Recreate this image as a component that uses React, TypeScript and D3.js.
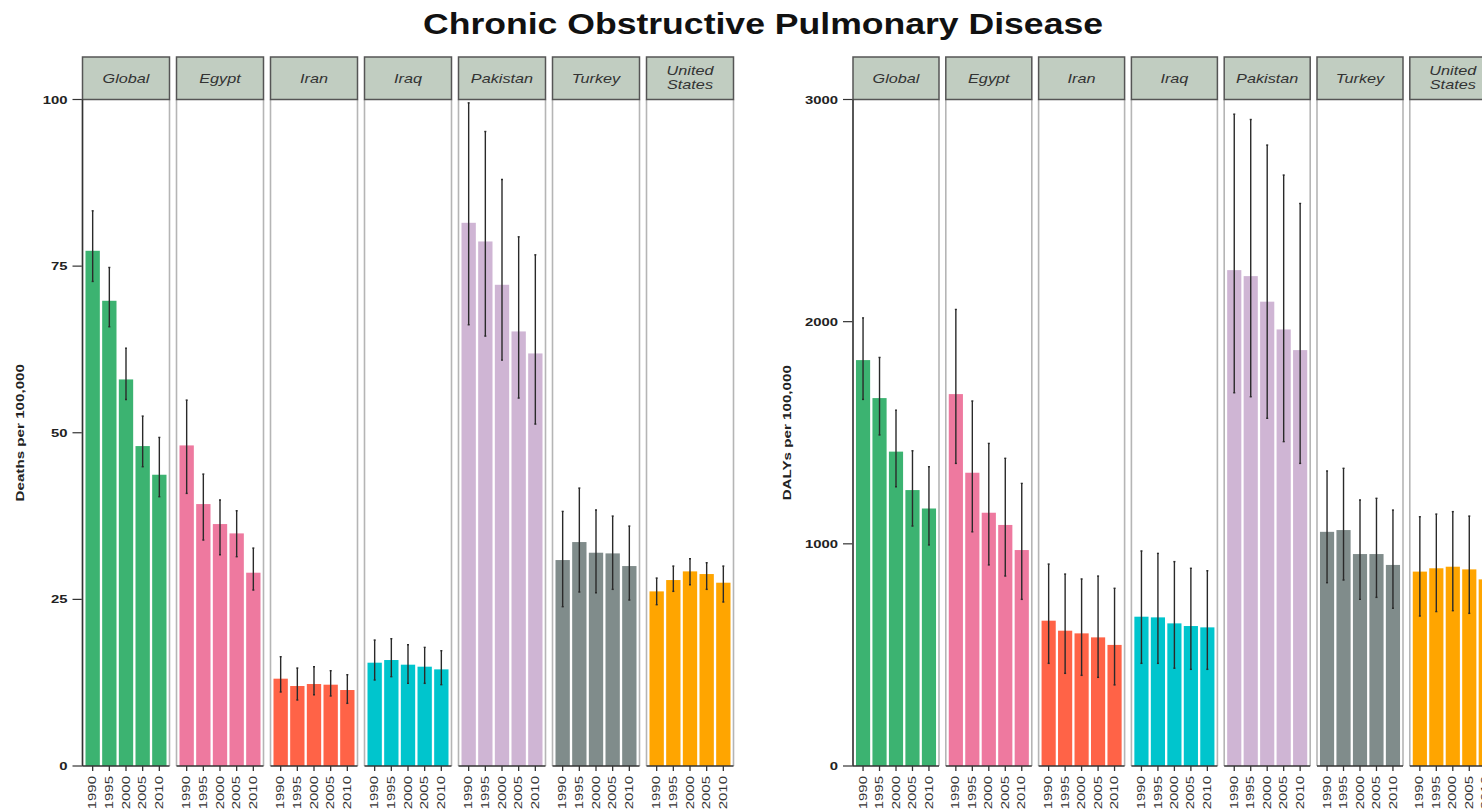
import React from 'react';
import * as d3 from 'd3';

const years = ['1990', '1995', '2000', '2005', '2010'];
const countries = ['Global', 'Egypt', 'Iran', 'Iraq', 'Pakistan', 'Turkey', 'United States'];
const countryColors = ['#3CB371', '#EE799F', '#FF6347', '#00C5CD', '#CFB5D4', '#808C8B', '#FFA500'];

// Deaths per 100,000 (rows: countries, cols: years)
const deathsMean = [
  [77.3, 69.8, 58.0, 48.0, 43.7],
  [48.1, 39.3, 36.3, 34.9, 29.0],
  [13.1, 12.0, 12.3, 12.2, 11.4],
  [15.5, 15.9, 15.2, 14.9, 14.5],
  [81.5, 78.7, 72.2, 65.2, 61.9],
  [30.9, 33.6, 32.0, 31.9, 30.0],
  [26.2, 27.9, 29.2, 28.8, 27.5],
];
const deathsLow = [
  [72.7, 65.9, 55.0, 44.9, 40.4],
  [40.9, 33.9, 31.7, 31.4, 26.4],
  [11.1, 9.9, 10.7, 10.5, 9.4],
  [12.9, 13.4, 12.4, 12.4, 12.2],
  [66.2, 64.5, 60.9, 55.2, 51.3],
  [23.9, 26.1, 26.0, 26.5, 24.9],
  [24.2, 26.2, 27.2, 26.5, 24.6],
];
const deathsHigh = [
  [83.3, 74.8, 62.7, 52.5, 49.3],
  [54.9, 43.8, 39.9, 38.3, 32.7],
  [16.4, 14.7, 14.9, 14.3, 13.7],
  [18.9, 19.1, 18.2, 17.8, 17.3],
  [99.5, 95.2, 88.0, 79.4, 76.7],
  [38.2, 41.7, 38.4, 37.5, 36.0],
  [28.2, 30.0, 31.1, 30.5, 30.0],
];

// DALYs per 100,000
const dalysMean = [
  [1827, 1656, 1415, 1242, 1159],
  [1674, 1320, 1140, 1085, 972],
  [654, 609, 597, 579, 545],
  [672, 669, 642, 630, 624],
  [2232, 2205, 2090, 1965, 1872],
  [1054, 1062, 954, 954, 905],
  [875, 890, 897, 885, 840],
];
const dalysLow = [
  [1650, 1490, 1257, 1080, 995],
  [1362, 1054, 905, 855, 750],
  [462, 417, 408, 399, 365],
  [462, 462, 440, 435, 435],
  [1680, 1662, 1565, 1460, 1362],
  [825, 837, 750, 759, 710],
  [675, 695, 699, 687, 657],
];
const dalysHigh = [
  [2017, 1839, 1602, 1419, 1347],
  [2055, 1643, 1452, 1385, 1272],
  [909, 864, 842, 855, 800],
  [968, 957, 920, 890, 879],
  [2934, 2910, 2795, 2660, 2532],
  [1328, 1340, 1197, 1205, 1152],
  [1122, 1134, 1145, 1125, 1130],
];

const deathsTicks = [0, 25, 50, 75, 100];
const dalysTicks = [0, 1000, 2000, 3000];

const FONT = '"Liberation Sans", Arial, Helvetica, sans-serif';
const STRIP_TOP = 57;
const PANEL_TOP = 99.5;
const AXIS_Y = 766;

type ChartProps = {
  x0: number;
  panelW: number;
  pitch: number;
  yMax: number;
  ticks: number[];
  mean: number[][];
  low: number[][];
  high: number[][];
  yLabel: string;
  yLabelX: number;
};

function FacetChart({ x0, panelW, pitch, yMax, ticks, mean, low, high, yLabel, yLabelX }: ChartProps) {
  const y = d3.scaleLinear().domain([0, yMax]).range([AXIS_Y, PANEL_TOP]);
  const xb = d3.scaleBand<string>().domain(years).range([0, panelW]).paddingInner(0.14).paddingOuter(0.18);
  const panelX = d3.scaleLinear().domain([0, 1]).range([x0, x0 + pitch]);
  const yMid = (PANEL_TOP + AXIS_Y) / 2;

  return (
    <g>
      {/* y label */}
      <text
        transform={`translate(${yLabelX},${yMid}) rotate(-90) scale(1.38,1)`}
        textAnchor="middle"
        fontFamily={FONT}
        fontSize={11}
        fontWeight="bold"
        fill="#222"
      >
        {yLabel}
      </text>
      {/* y ticks */}
      {ticks.map((t) => (
        <g key={t}>
          <line x1={x0 - 10} x2={x0} y1={y(t)} y2={y(t)} stroke="#333" strokeWidth={1.2} />
          <text
            transform={`translate(${x0 - 15},${y(t) + 4}) scale(1.35,1)`}
            textAnchor="end"
            fontFamily={FONT}
            fontSize={11}
            fontWeight="bold"
            fill="#222"
          >
            {t}
          </text>
        </g>
      ))}
      {countries.map((c, ci) => {
        const px = panelX(ci);
        const lines = c === 'United States' ? ['United', 'States'] : [c];
        return (
          <g key={c}>
            {/* panel borders */}
            <line x1={px} x2={px} y1={PANEL_TOP} y2={AXIS_Y} stroke="#b5b5b5" strokeWidth={1.6} />
            <line x1={px + panelW} x2={px + panelW} y1={PANEL_TOP} y2={AXIS_Y} stroke="#b5b5b5" strokeWidth={1.6} />
            {/* bars */}
            {years.map((yr, yi) => (
              <rect
                key={yr}
                x={px + (xb(yr) as number)}
                y={y(mean[ci][yi])}
                width={xb.bandwidth()}
                height={AXIS_Y - y(mean[ci][yi])}
                fill={countryColors[ci]}
              />
            ))}
            {/* error bars */}
            {years.map((yr, yi) => {
              const cx = px + (xb(yr) as number) + xb.bandwidth() / 2;
              return (
                <g key={'e' + yr}>
                  <line x1={cx} x2={cx} y1={y(high[ci][yi])} y2={y(low[ci][yi])} stroke="#2a2a2a" strokeWidth={1.4} />
                  <line x1={cx - 1} x2={cx + 1} y1={y(high[ci][yi])} y2={y(high[ci][yi])} stroke="#2a2a2a" strokeWidth={1.4} />
                  <line x1={cx - 1} x2={cx + 1} y1={y(low[ci][yi])} y2={y(low[ci][yi])} stroke="#2a2a2a" strokeWidth={1.4} />
                </g>
              );
            })}
            {/* x axis */}
            <line x1={px} x2={px + panelW} y1={AXIS_Y} y2={AXIS_Y} stroke="#333" strokeWidth={1.5} />
            {years.map((yr) => {
              const cx = px + (xb(yr) as number) + xb.bandwidth() / 2;
              return (
                <g key={'t' + yr}>
                  <line x1={cx} x2={cx} y1={AXIS_Y} y2={AXIS_Y + 5} stroke="#333" strokeWidth={1.3} />
                  <text
                    transform={`translate(${cx + 3.6},${AXIS_Y + 10}) rotate(-90) scale(1.5,1)`}
                    textAnchor="end"
                    fontFamily={FONT}
                    fontSize={10}
                    fill="#333"
                  >
                    {yr}
                  </text>
                </g>
              );
            })}
            {/* strip */}
            <rect x={px} y={STRIP_TOP} width={panelW} height={PANEL_TOP - STRIP_TOP} fill="#C1CDC1" stroke="#555" strokeWidth={1.5} />
            {lines.map((l, li) => (
              <text
                key={l}
                transform={`translate(${px + panelW / 2},${lines.length === 1 ? 83 : 75 + li * 14}) scale(1.3,1)`}
                textAnchor="middle"
                fontFamily={FONT}
                fontSize={12.5}
                fontStyle="italic"
                fill="#333"
              >
                {l}
              </text>
            ))}
          </g>
        );
      })}
      {/* y axis line */}
      <line x1={x0} x2={x0} y1={PANEL_TOP} y2={AXIS_Y} stroke="#333" strokeWidth={1.5} />
    </g>
  );
}

export default function App() {
  return (
    <svg
      width={1482}
      height={809}
      style={{ position: 'absolute', left: 0, top: 0, background: '#fff' }}
    >
      <rect x={0} y={0} width={1482} height={809} fill="#fff" />
      <text
        x={423}
        y={34}
        textLength={680}
        lengthAdjust="spacingAndGlyphs"
        fontFamily={FONT}
        fontSize={29}
        fontWeight="bold"
        fill="#111"
      >
        Chronic Obstructive Pulmonary Disease
      </text>
      <FacetChart
        x0={82.5}
        panelW={87}
        pitch={94}
        yMax={100}
        ticks={deathsTicks}
        mean={deathsMean}
        low={deathsLow}
        high={deathsHigh}
        yLabel="Deaths per 100,000"
        yLabelX={24}
      />
      <FacetChart
        x0={853}
        panelW={86}
        pitch={92.8}
        yMax={3000}
        ticks={dalysTicks}
        mean={dalysMean}
        low={dalysLow}
        high={dalysHigh}
        yLabel="DALYs per 100,000"
        yLabelX={791}
      />
    </svg>
  );
}
